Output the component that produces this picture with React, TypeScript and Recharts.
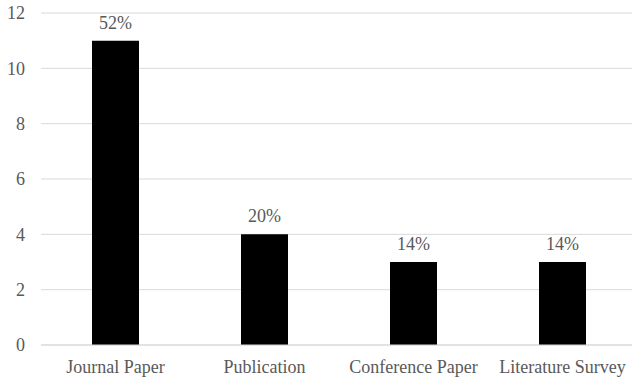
import { BarChart, Bar, XAxis, YAxis, CartesianGrid, LabelList } from "recharts";

const categories = ["Journal Paper", "Publication", "Conference Paper", "Literature Survey"];
const counts = [11, 4, 3, 3];
const shares = ["52%", "20%", "14%", "14%"];
const yTicks = [0, 2, 4, 6, 8, 10, 12];

const data = categories.map((name, i) => ({ name, value: counts[i], share: shares[i] }));

const font = "Liberation Serif, DejaVu Serif, serif";
const textColor = "#595959";

export default function App() {
  return (
    <div style={{ position: "fixed", left: 0, top: 0, width: 632, height: 381, overflow: "hidden", background: "#fff", fontFamily: font }}>
      <BarChart
        width={637}
        height={381}
        data={data}
        margin={{ top: 13, right: 0, bottom: 6, left: 0 }}
      >
        <CartesianGrid vertical={false} stroke="#d9d9d9" />
        <XAxis
          dataKey="name"
          axisLine={{ stroke: "#d9d9d9" }}
          tickLine={false}
          tickMargin={9}
          height={30}
          interval={0}
          tick={{ fontSize: 18, fill: textColor, style: { fontFamily: font } }}
        />
        <YAxis
          width={41}
          domain={[0, 12]}
          ticks={yTicks}
          axisLine={false}
          tickLine={false}
          tickMargin={10}
          tick={{ fontSize: 18, fill: textColor, style: { fontFamily: font } }}
        />
        <Bar dataKey="value" fill="#000" barSize={47} isAnimationActive={false}>
          <LabelList dataKey="share" position="top" offset={12} style={{ fontSize: 18, fill: textColor, fontFamily: font }} />
        </Bar>
      </BarChart>
    </div>
  );
}
